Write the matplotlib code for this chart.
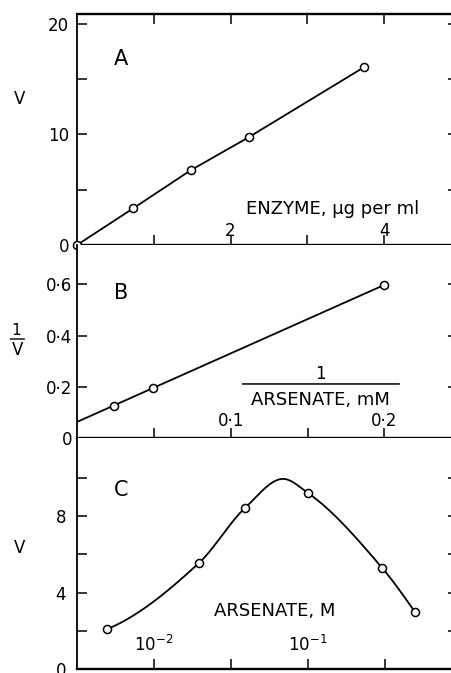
import numpy as np
import matplotlib
matplotlib.use('Agg')
import matplotlib.pyplot as plt

plt.rcParams['font.family'] = ['DejaVu Sans']

# ---------------- data ----------------
# Panel A: velocity vs enzyme concentration
enzyme_ug_ml = [0.0, 0.733, 1.481, 2.237, 3.743]
v_enzyme = [0.0, 3.32, 6.76, 9.75, 16.1]

# Panel B: double reciprocal plot
inv_arsenate = [0.0241, 0.0492, 0.200]
inv_v = [0.126, 0.196, 0.598]

# Panel C: velocity vs arsenate (log scale)
arsenate_M = [0.00493, 0.0196, 0.039, 0.1, 0.303, 0.495]
v_arsenate = [2.08, 5.55, 8.43, 9.21, 5.29, 2.98]
# hand-drawn smooth curve
curve_x = [0.00493, 0.0196, 0.039, 0.0689, 0.1, 0.303, 0.495]
curve_y = [2.08, 5.55, 8.43, 9.95, 9.21, 5.29, 2.98]

# tick labels
a_xticks = [1, 2, 3, 4]
a_xlabels = ['', '2', '', '4']
a_yticks = [0, 5, 10, 15, 20]
a_ylabels = ['0', '', '10', '', '20']
b_xticks = [0.05, 0.1, 0.15, 0.2]
b_xlabels = ['', '0·1', '', '0·2']
b_yticks = [0, 0.2, 0.4, 0.6]
b_ylabels = ['0', '0·2', '0·4', '0·6']
c_xticks = [10**-2, 10**-1.5, 10**-1, 10**-0.5]
c_xlabels = [r'$\mathregular{10^{-2}}$', '', r'$\mathregular{10^{-1}}$', '']
c_yticks = [0, 2, 4, 6, 8, 10]
c_ylabels = ['0', '', '4', '', '8', '']


def pchip(x, y, xn):
    x = np.asarray(x, float); y = np.asarray(y, float)
    h = np.diff(x)
    delta = np.diff(y) / h
    n = len(x)
    d = np.zeros(n)
    for k in range(1, n - 1):
        if delta[k - 1] * delta[k] > 0:
            w1 = 2 * h[k] + h[k - 1]
            w2 = h[k] + 2 * h[k - 1]
            d[k] = (w1 + w2) / (w1 / delta[k - 1] + w2 / delta[k])
        else:
            d[k] = 0.0

    def end(h0, h1, del0, del1):
        dd = ((2 * h0 + h1) * del0 - h0 * del1) / (h0 + h1)
        if np.sign(dd) != np.sign(del0):
            dd = 0.0
        elif np.sign(del0) != np.sign(del1) and abs(dd) > abs(3 * del0):
            dd = 3 * del0
        return dd
    d[0] = end(h[0], h[1], delta[0], delta[1])
    d[-1] = end(h[-1], h[-2], delta[-1], delta[-2])
    idx = np.clip(np.searchsorted(x, xn) - 1, 0, n - 2)
    t = (xn - x[idx]) / h[idx]
    h00 = 2 * t**3 - 3 * t**2 + 1
    h10 = t**3 - 2 * t**2 + t
    h01 = -2 * t**3 + 3 * t**2
    h11 = t**3 - t**2
    return (h00 * y[idx] + h10 * h[idx] * d[idx]
            + h01 * y[idx + 1] + h11 * h[idx] * d[idx + 1])


# ---------------- figure ----------------
W, H = 452, 673
fig = plt.figure(figsize=(W / 100, H / 100), dpi=100)


def px_axes(left, top, right, bottom):
    return fig.add_axes([left / W, 1 - bottom / H, (right - left) / W, (bottom - top) / H])


axA = px_axes(77, 14, 458, 245)
axB = px_axes(77, 245, 458, 438)
axC = px_axes(77, 438, 458, 669)

for ax in (axA, axB, axC):
    ax.spines['right'].set_visible(False)
    ax.spines['top'].set_visible(False)
    ax.spines['left'].set_linewidth(1.3)
    ax.spines['bottom'].set_linewidth(1.7)
    ax.tick_params(direction='in', length=7, width=1.1, labelsize=12,
                   right=True, labelright=False)
axA.spines['top'].set_visible(True)
axA.spines['top'].set_linewidth(1.7)

line_kw = dict(color='black', lw=1.3, zorder=2)
mk_kw = dict(ls='none', marker='o', ms=5.8, mfc='white', mec='black', mew=1.1,
             zorder=3, clip_on=False)
lab_kw = dict(fontsize=13, ha='center', va='center')

# Panel A
axA.plot(enzyme_ug_ml, v_enzyme, **line_kw)
axA.plot(enzyme_ug_ml, v_enzyme, **mk_kw)
axA.set_xlim(0, 4.964)
axA.set_ylim(0, 20.9)
axA.set_xticks(a_xticks, a_xlabels)
axA.set_yticks(a_yticks, a_ylabels)
axA.tick_params(axis='x', top=True, pad=-16.5)
axA.tick_params(axis='y', pad=5.5)
axA.set_ylabel('V', rotation=0, fontsize=12, ha='center', va='center')
axA.yaxis.set_label_coords(-0.151, 0.632)
axA.text(0.116, 0.805, 'A', transform=axA.transAxes, fontsize=15,
         ha='center', va='center')
axA.text(0.67, 0.156, 'ENZYME, µg per ml', transform=axA.transAxes, **lab_kw)

# Panel B
slope, intercept = np.polyfit(inv_arsenate, inv_v, 1)
bx = np.array([0.0, max(inv_arsenate)])
axB.plot(bx, intercept + slope * bx, **line_kw)
axB.plot(inv_arsenate, inv_v, **mk_kw)
axB.set_xlim(0, 0.2479)
axB.set_ylim(0, 0.754)
axB.set_xticks(b_xticks, b_xlabels)
axB.set_yticks(b_yticks, b_ylabels)
axB.tick_params(axis='x', pad=-18.7)
axB.tick_params(axis='y', pad=3.5)
axB.text(0.116, 0.749, 'B', transform=axB.transAxes, fontsize=15,
         ha='center', va='center')
axB.text(-0.159, 0.555, '1', transform=axB.transAxes, fontsize=11,
         ha='center', va='center')
axB.annotate('', xy=(-0.175, 0.513), xytext=(-0.138, 0.513),
             xycoords='axes fraction',
             arrowprops=dict(arrowstyle='-', lw=1.0, color='black',
                             shrinkA=0, shrinkB=0))
axB.text(-0.156, 0.456, 'V', transform=axB.transAxes, fontsize=12,
         ha='center', va='center')
axB.text(0.64, 0.33, '1', transform=axB.transAxes, fontsize=12,
         ha='center', va='center')
axB.annotate('', xy=(0.434, 0.28), xytext=(0.846, 0.28),
             xycoords='axes fraction',
             arrowprops=dict(arrowstyle='-', lw=1.1, color='black',
                             shrinkA=0, shrinkB=0))
axB.text(0.64, 0.197, 'ARSENATE, mM', transform=axB.transAxes, **lab_kw)

# Panel C
axC.set_xscale('log')
lx = np.log10(curve_x)
xn = np.linspace(lx[0], lx[-1], 400)
axC.plot(10**xn, pchip(lx, curve_y, xn), **line_kw)
axC.plot(arsenate_M, v_arsenate, **mk_kw)
axC.set_xlim(10**-2.5, 10**-0.026)
axC.set_ylim(0, 12.09)
axC.set_xticks(c_xticks, c_xlabels)
axC.xaxis.set_minor_locator(matplotlib.ticker.NullLocator())
axC.set_yticks(c_yticks, c_ylabels)
axC.tick_params(axis='x', pad=-24.5)
axC.tick_params(axis='y', pad=8)
axC.set_ylabel('V', rotation=0, fontsize=12, ha='center', va='center')
axC.yaxis.set_label_coords(-0.151, 0.524)
axC.text(0.116, 0.775, 'C', transform=axC.transAxes, fontsize=15,
         ha='center', va='center')
axC.text(0.52, 0.251, 'ARSENATE, M', transform=axC.transAxes, **lab_kw)

fig.savefig('out.png', dpi=100)
